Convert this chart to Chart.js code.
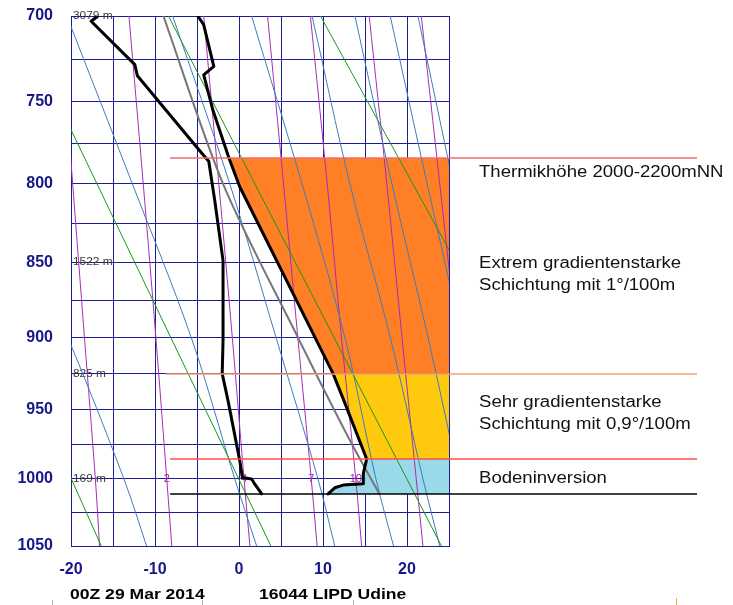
<!DOCTYPE html>
<html>
<head>
<meta charset="utf-8">
<title>16044 LIPD Udine - 00Z 29 Mar 2014</title>
<script src="https://cdn.jsdelivr.net/npm/chart.js@4.4.1/dist/chart.umd.min.js"></script>
<style>
  html, body { margin: 0; padding: 0; background: #fff; }
  #wrap { width: 733px; height: 605px; }
</style>
</head>
<body>
<div id="wrap"><canvas id="soundingChart" width="733" height="605"></canvas></div>
<script>
// axis grid and labels
const pressureTicks = [700, 725, 750, 775, 800, 825, 850, 875, 900, 925, 950, 975, 1000, 1025, 1050];
const pressureLabels = [700, 750, 800, 850, 900, 950, 1000, 1050];
const tempTicks = [-20, -15, -10, -5, 0, 5, 10, 15, 20, 25];
const tempLabels = [-20, -10, 0, 10, 20];

// sounding (hPa / °C)
const tempP = [700, 705, 729, 734, 755, 784, 802, 925, 944, 985.5, 996, 1003.5, 1004.5, 1006.5, 1011];
const tempT = [-4.9, -4.2, -3.0, -4.2, -3.1, -1.2, 0.1, 11.2, 12.5, 15.2, 14.8, 14.8, 12.4, 11.4, 10.6];
const dewP = [700, 703, 728, 734.5, 780, 786, 810, 849, 902, 925, 944, 987, 999, 1000, 1003, 1011];
const dewT = [-16.8, -17.6, -12.4, -12.1, -4.6, -3.6, -2.9, -1.9, -1.9, -2.0, -1.3, 0.1, 0.4, 1.5, 1.8, 2.7];
const refP = [700, 800, 900, 972, 1011];
const refT = [-9.0, -1.9, 7.0, 13.2, 16.7];

// layer limits marked on the right (hPa)
const layerEdges = [784, 925, 985.5, 1011];
const layerNames = ['Thermik', 'Extrem', 'Sehr', 'Boden'];

// station heights
const heightP = [700, 850, 925, 1000];
const heightM = [3079, 1522, 825, 169];

// background lines, temperatures read at these levels
const dryP = [700, 1050];
const dryT = [[-44.5, -16.4], [-26.5, 3.8], [-8.4, 24.1], [9.7, 44.4]];
const lineP = [700, 800, 900, 1000, 1050];
const moistT = [
  [-38.0, -28.5, -20.4, -13.7, -11.0],
  [-20.5, -12.7, -5.7, -0.5, 2.1],
  [-7.9, -1.1, 4.4, 9.4, 11.4],
  [1.5, 7.5, 12.6, 16.3, 18.4],
  [8.7, 13.2, 18.0, 21.9, 23.9],
  [13.8, 18.2, 22.5, 26.2, 28.0],
  [18.0, 22.4, 26.5, 30.0, 31.8],
  [21.3, 25.5, 29.3, 32.7, 34.4]
];
const mixRatio = ['1', '2', '4', '7', '10', '16', '24'];
const mixT = [
  [-21.3, -19.8, -18.4, -17.1, -16.6],
  [-13.1, -11.4, -9.9, -8.6, -8.0],
  [-4.2, -2.4, -0.8, 0.6, 1.3],
  [3.4, 5.3, 7.0, 8.6, 9.3],
  [8.5, 10.5, 12.2, 13.9, 14.6],
  [15.5, 17.6, 19.4, 21.1, 21.9],
  [21.7, 23.9, 25.9, 27.7, 28.5]
];
const mixLabelled = ['2', '4', '7', '10', '16'];

const FONT = "'Liberation Sans', Arial, sans-serif";
const GRID = '#1c1c94';
const AXIS_TEXT = '#16168a';

// pressure axis spaced like p^0.286 (Stüve)
const KAPPA = 0.2857;
class PressureScale extends Chart.LinearScale {
  getPixelForValue(value) {
    const lo = Math.pow(this.min, KAPPA);
    const hi = Math.pow(this.max, KAPPA);
    return this.getPixelForDecimal((Math.pow(value, KAPPA) - lo) / (hi - lo));
  }
  getValueForPixel(pixel) {
    const lo = Math.pow(this.min, KAPPA);
    const hi = Math.pow(this.max, KAPPA);
    return Math.pow(lo + this.getDecimalForPixel(pixel) * (hi - lo), 1 / KAPPA);
  }
}
PressureScale.id = 'pressure';
PressureScale.defaults = {};
Chart.register(PressureScale);

function toPoints(ps, ts) {
  return ps.map((p, i) => ({ x: ts[i], y: p }));
}

function bandPoints(lo, hi) {
  const pts = [];
  tempP.forEach((p, i) => {
    if (p >= lo && p <= hi) pts.push({ x: tempT[i], y: p });
  });
  return pts;
}

const bandColors = ['#ff7f27', '#ffc90e', '#99d9ea'];
const datasets = [];

for (let i = 0; i < layerEdges.length - 1; i++) {
  datasets.push({
    label: layerNames[i],
    data: bandPoints(layerEdges[i], layerEdges[i + 1]),
    indexAxis: 'y',
    borderWidth: 0,
    borderColor: 'rgba(0,0,0,0)',
    backgroundColor: bandColors[i],
    fill: { value: 25 },
    tension: 0,
    order: 9
  });
}

dryT.forEach(t => {
  datasets.push({ data: toPoints(dryP, t), borderColor: '#1a981a', borderWidth: 1, tension: 0, order: 5 });
});
moistT.forEach(t => {
  datasets.push({ data: toPoints(lineP, t), borderColor: '#3d7db8', borderWidth: 1, tension: 0.35, order: 5 });
});
mixT.forEach(t => {
  datasets.push({ data: toPoints(lineP, t), borderColor: '#a82cb4', borderWidth: 1, tension: 0.35, order: 5 });
});

datasets.push({ label: 'ref', data: toPoints(refP, refT), borderColor: '#777777', borderWidth: 2, tension: 0.3, order: 3 });
datasets.push({ label: 'Taupunkt', data: toPoints(dewP, dewT), borderColor: '#000', borderWidth: 3, tension: 0, order: 1 });
datasets.push({ label: 'Temperatur', data: toPoints(tempP, tempT), borderColor: '#000', borderWidth: 3, tension: 0, order: 1 });

function stretchedText(ctx, text, x, y, sx) {
  ctx.save();
  ctx.translate(x, y);
  ctx.scale(sx, 1);
  ctx.fillText(text, 0, 0);
  ctx.restore();
}

const soundingNotes = {
  id: 'soundingNotes',
  beforeDatasetsDraw(chart) {
    const { ctx, chartArea, scales: { x, y } } = chart;
    ctx.save();
    ctx.font = '11px ' + FONT;
    ctx.fillStyle = '#3a3a3a';
    ctx.textAlign = 'left';
    ctx.textBaseline = 'middle';
    heightP.forEach((p, i) => {
      stretchedText(ctx, heightM[i] + ' m', chartArea.left + 2, y.getPixelForValue(p), 1.08);
    });
    ctx.fillStyle = '#a020a8';
    ctx.textAlign = 'center';
    mixRatio.forEach((w, i) => {
      if (!mixLabelled.includes(w)) return;
      ctx.fillText(w, x.getPixelForValue(mixT[i][3]), y.getPixelForValue(1000));
    });
    ctx.restore();
  },
  afterDraw(chart) {
    const { ctx, chartArea, scales: { x, y } } = chart;
    ctx.save();

    // layer boundaries
    const lineColors = ['#ee6e6e', '#f6a070', '#ff4c4c', '#000000'];
    const lineStart = [-8.2, -8.7, -8.2, -8.2];
    layerEdges.forEach((p, i) => {
      const py = Math.round(y.getPixelForValue(p));
      ctx.strokeStyle = lineColors[i];
      ctx.lineWidth = 1.5;
      ctx.beginPath();
      ctx.moveTo(x.getPixelForValue(lineStart[i]), py);
      ctx.lineTo(chartArea.right + 248, py);
      ctx.stroke();
    });

    // notes
    ctx.fillStyle = '#111';
    ctx.font = '16px ' + FONT;
    ctx.textAlign = 'left';
    ctx.textBaseline = 'alphabetic';
    const tx = chartArea.right + 30;
    const notes = [
      ['Thermikhöhe 2000-2200mNN', 177],
      ['Extrem gradientenstarke', 268],
      ['Schichtung mit 1°/100m', 290],
      ['Sehr gradientenstarke', 407],
      ['Schichtung mit 0,9°/100m', 429],
      ['Bodeninversion', 483]
    ];
    notes.forEach(([t, ty]) => stretchedText(ctx, t, tx, ty, 1.16));

    // footer
    ctx.fillStyle = '#000';
    ctx.font = 'bold 15px ' + FONT;
    stretchedText(ctx, '00Z 29 Mar 2014', 70, 599, 1.17);
    stretchedText(ctx, '16044 LIPD Udine', 259, 599, 1.17);

    ctx.strokeStyle = '#b0b0b0';
    ctx.lineWidth = 1;
    [52, 202, 353].forEach(px => {
      ctx.beginPath();
      ctx.moveTo(px + 0.5, 600);
      ctx.lineTo(px + 0.5, 605);
      ctx.stroke();
    });
    ctx.strokeStyle = '#ffa040';
    ctx.beginPath();
    ctx.moveTo(676.5, 598);
    ctx.lineTo(676.5, 605);
    ctx.stroke();

    ctx.restore();
  }
};

const tickFont = { family: FONT, size: 16, weight: 'bold' };

const soundingChart = new Chart(document.getElementById('soundingChart'), {
  type: 'line',
  data: { datasets },
  options: {
    responsive: false,
    animation: false,
    events: [],
    layout: { padding: { top: 16, right: 284, bottom: 0, left: 0 } },
    elements: {
      point: { radius: 0 },
      line: { borderCapStyle: 'round', borderJoinStyle: 'round' }
    },
    plugins: {
      legend: { display: false },
      tooltip: { enabled: false }
    },
    scales: {
      x: {
        type: 'linear',
        position: 'bottom',
        min: -20,
        max: 25,
        z: 1,
        afterBuildTicks: axis => { axis.ticks = tempTicks.map(v => ({ value: v })); },
        afterFit: axis => { axis.height = 59; },
        grid: { color: GRID, lineWidth: 1, drawTicks: false },
        border: { color: GRID, width: 1 },
        ticks: {
          autoSkip: false,
          maxRotation: 0,
          padding: 14,
          color: AXIS_TEXT,
          font: tickFont,
          callback: v => tempLabels.includes(v) ? String(v) : ''
        }
      },
      y: {
        type: 'pressure',
        position: 'left',
        min: 700,
        max: 1050,
        reverse: true,
        z: 1,
        afterBuildTicks: axis => { axis.ticks = pressureTicks.map(v => ({ value: v })); },
        afterFit: axis => {
          axis.width = 71;
          axis.paddingTop = 0;
          axis.paddingBottom = 0;
        },
        grid: { color: GRID, lineWidth: 1, drawTicks: false },
        border: { color: GRID, width: 1 },
        ticks: {
          autoSkip: false,
          padding: 18,
          color: AXIS_TEXT,
          font: tickFont,
          callback: v => pressureLabels.includes(v) ? String(v) : ''
        }
      }
    }
  },
  plugins: [soundingNotes]
});
</script>
</body>
</html>
